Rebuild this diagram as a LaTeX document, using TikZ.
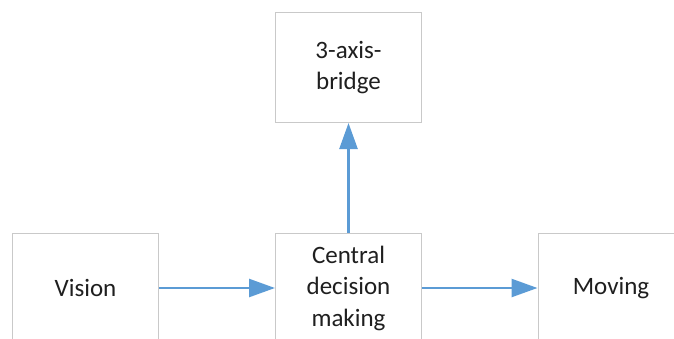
\documentclass[tikz,border=0pt]{standalone}
\usepackage{fontspec}
\setmainfont{Carlito}
\usetikzlibrary{arrows.meta}
\definecolor{boxline}{HTML}{C9C9C9}
\definecolor{flow}{HTML}{5B9BD5}
\begin{document}
\begin{tikzpicture}[x=1pt,y=-1pt,
  blk/.style={draw=boxline,line width=1pt,fill=white,minimum width=146pt,minimum height=110pt,
    align=center,font=\fontsize{25}{31.5}\selectfont,text=black!88,inner sep=0pt},
  link/.style={draw=flow,line width=2.5pt,-{Triangle[length=26pt,width=18pt]}}]
\useasboundingbox (0,0) rectangle (674,338);
\begin{scope}
\clip (0,0) rectangle (674,338);
\node[blk] (bridge) at (348.5,67.5) {3-axis-\\bridge};
\node[blk] (vision) at (85.5,288) {Vision};
\node[blk] (central) at (348.5,288) {Central\\decision\\making};
\node[blk] (moving) at (611,288) {Moving};
\draw[link] (vision) -- (central);
\draw[link] (central) -- (moving);
\draw[link] (central) -- (bridge);
\end{scope}
\end{tikzpicture}
\end{document}
